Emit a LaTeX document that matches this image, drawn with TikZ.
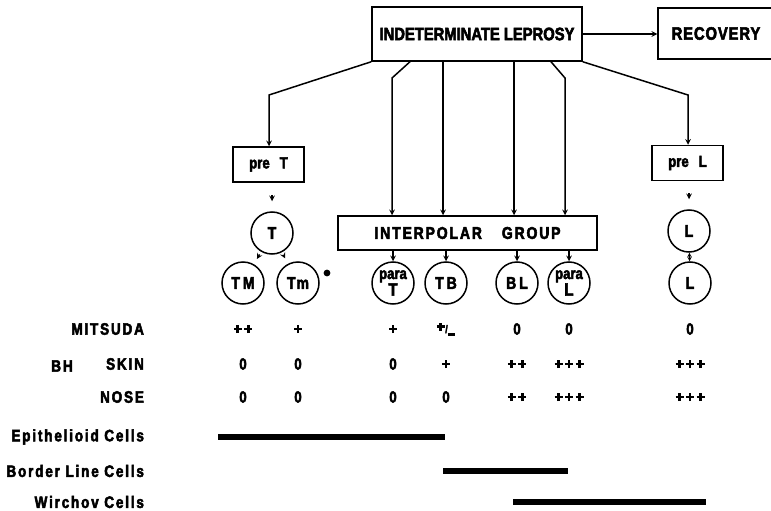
\documentclass[tikz,border=0pt]{standalone}
\usepackage{fontspec}
\setmainfont{Liberation Sans}[FakeStretch=0.82, FakeBold=3]
\newfontfamily\spaced{Liberation Sans}[FakeStretch=0.82, FakeBold=3, LetterSpace=11]
% heavy plus sign built from two bars
\newcommand\crs{\rule[2.7pt]{8pt}{2.7pt}\kern-5.35pt\rule{2.7pt}{8pt}\kern2.65pt}
\newcommand\crsgap{\kern2.5pt}
\usetikzlibrary{positioning, arrows}

\begin{document}
\begin{tikzpicture}[x=1pt, y=-1pt, line width=1.5pt, font=\bfseries,
    box/.style={draw, inner sep=0pt},
    ring/.style={draw, circle, minimum size=42pt, inner sep=0pt, font=\bfseries\fontsize{17}{17}\selectfont},
    val/.style={font=\bfseries\fontsize{16}{16}\selectfont},
    rowlab/.style={anchor=east, font=\spaced\bfseries\fontsize{16.5}{16.5}\selectfont},
    bar/.style={line width=5.5pt},
    tip/.style={-stealth}]

\useasboundingbox (0,0) rectangle (771,511);

% top boxes
\node[box, minimum width=210pt, minimum height=54pt, font=\bfseries\fontsize{18}{18}\selectfont] (ind) at (477,34) {INDETERMINATE LEPROSY};
\node[box, minimum width=116pt, minimum height=51pt, font=\bfseries\fontsize{18}{18}\selectfont\addfontfeature{LetterSpace=5}] (rec) at (716,33.5) {RECOVERY};
\draw[tip] (ind.east) -- (ind.east -| rec.west);

% polar forms
\node[box, minimum width=71pt, minimum height=35pt, font=\bfseries\fontsize{16}{16}\selectfont] (preT) at (268.5,164.5) {pre\hspace{10pt}T};
\node[box, minimum width=71pt, minimum height=35pt, font=\bfseries\fontsize{16}{16}\selectfont] (preL) at (687.5,163) {pre\hspace{10pt}L};
\node[ring] (T) at (272,233) {T};
\node[ring] (L) at (689,231) {L};
\node[ring] (TM) at (243,283) {T\hspace{3pt}M};
\node[ring] (Tm) at (298,283) {T\hspace{1pt}m};
\node[circle, fill, inner sep=2.4pt] (dot) at (327,273) {};
\node[ring] (LL) at (690,283) {L};

% interpolar group
\node[box, minimum width=259pt, minimum height=34pt, font=\spaced\bfseries\fontsize{17}{17}\selectfont] (ipg) at (467.5,233) {INTERPOLAR\hspace{20pt}GROUP};
\node[ring, align=center, font=\bfseries\fontsize{18}{11}\selectfont] (paraT) at (393,283) {{\fontsize{16}{16}\selectfont para}\\T};
\node[ring] (TB) at (446,283) {T\hspace{3pt}B};
\node[ring] (BL) at (517,283) {B\hspace{3pt}L};
\node[ring, align=center, font=\bfseries\fontsize{18}{11}\selectfont] (paraL) at (569,283) {{\fontsize{16}{16}\selectfont para}\\L};

\coordinate (kT) at (269,95);
\coordinate (kL) at (688,95);
\coordinate (k1) at (392,78);
\coordinate (k4) at (565,78);

\draw[tip] (ind.south west) -- (kT) -- (kT |- preT.north);
\draw[tip] (ind.south east) -- (kL) -- (kL |- preL.north);
\draw[tip] (410,0 |- ind.south) -- (k1) -- (k1 |- ipg.north);
\draw[tip] (443,0 |- ind.south) -- (443,0 |- ipg.north);
\draw[tip] (514,0 |- ind.south) -- (514,0 |- ipg.north);
\draw[tip] (551,0 |- ind.south) -- (k4) -- (k4 |- ipg.north);

\draw[tip, shorten <=12pt, shorten >=10pt] (T.north |- preT.south) -- (T.north);
\draw[tip, shorten <=12pt, shorten >=10pt] (L.north |- preL.south) -- (L.north);
\draw[tip, shorten <=3pt, shorten >=6pt] (T) -- (TM);
\draw[tip, shorten <=3pt, shorten >=6pt] (T) -- (Tm);
\draw[stealth-stealth, line width=1pt] (L) -- (LL);
\draw[tip] (paraT.north |- ipg.south) -- (paraT);
\draw[tip] (TB.north |- ipg.south) -- (TB);
\draw[tip] (BL.north |- ipg.south) -- (BL);
\draw[tip] (paraL.north |- ipg.south) -- (paraL);

% rows
\node[rowlab] (mit) at (148,329) {MITSUDA};
\node[rowlab] (skin) at (148,364) {SKIN};
\node[rowlab] (nose) at (148,397) {NOSE};
\node[font=\spaced\bfseries\fontsize{16.5}{16.5}\selectfont] (bh) at (62,366) {BH};

\node[val] (mTM) at (TM |- mit) {\crs\crsgap\crs};
\node[val] (mTm) at (Tm |- mit) {\crs};
\node[val] (mpT) at (paraT |- mit) {\crs};
\node[val] (mTB) at (TB |- mit) {\raisebox{2.5pt}{\crs}\kern0.5pt{\fontsize{11}{11}\selectfont/}\kern0.5pt\rule[-2.5pt]{7pt}{2.2pt}};
\node[val] (mBL) at (BL |- mit) {0};
\node[val] (mpL) at (paraL |- mit) {0};
\node[val] (mL) at (LL |- mit) {0};

\node[val] (sTM) at (TM |- skin) {0};
\node[val] (sTm) at (Tm |- skin) {0};
\node[val] (spT) at (paraT |- skin) {0};
\node[val] (sTB) at (TB |- skin) {\crs};
\node[val] (sBL) at (BL |- skin) {\crs\crsgap\crs};
\node[val] (spL) at (paraL |- skin) {\crs\crsgap\crs\crsgap\crs};
\node[val] (sL) at (LL |- skin) {\crs\crsgap\crs\crsgap\crs};

\node[val] (nTM) at (TM |- nose) {0};
\node[val] (nTm) at (Tm |- nose) {0};
\node[val] (npT) at (paraT |- nose) {0};
\node[val] (nTB) at (TB |- nose) {0};
\node[val] (nBL) at (BL |- nose) {\crs\crsgap\crs};
\node[val] (npL) at (paraL |- nose) {\crs\crsgap\crs\crsgap\crs};
\node[val] (nL) at (LL |- nose) {\crs\crsgap\crs\crsgap\crs};

% cell types
\node[rowlab] (epi) at (148,437) {Epithelioid Cells};
\node[rowlab] (bor) at (148,471) {Border Line Cells};
\node[rowlab] (wir) at (148,502) {Wirchov Cells};

\draw[bar] (218,0 |- epi) -- (445,0 |- epi);
\draw[bar] (443,0 |- bor) -- (568,0 |- bor);
\draw[bar] (513,0 |- wir) -- (706,0 |- wir);
\end{tikzpicture}
\end{document}
